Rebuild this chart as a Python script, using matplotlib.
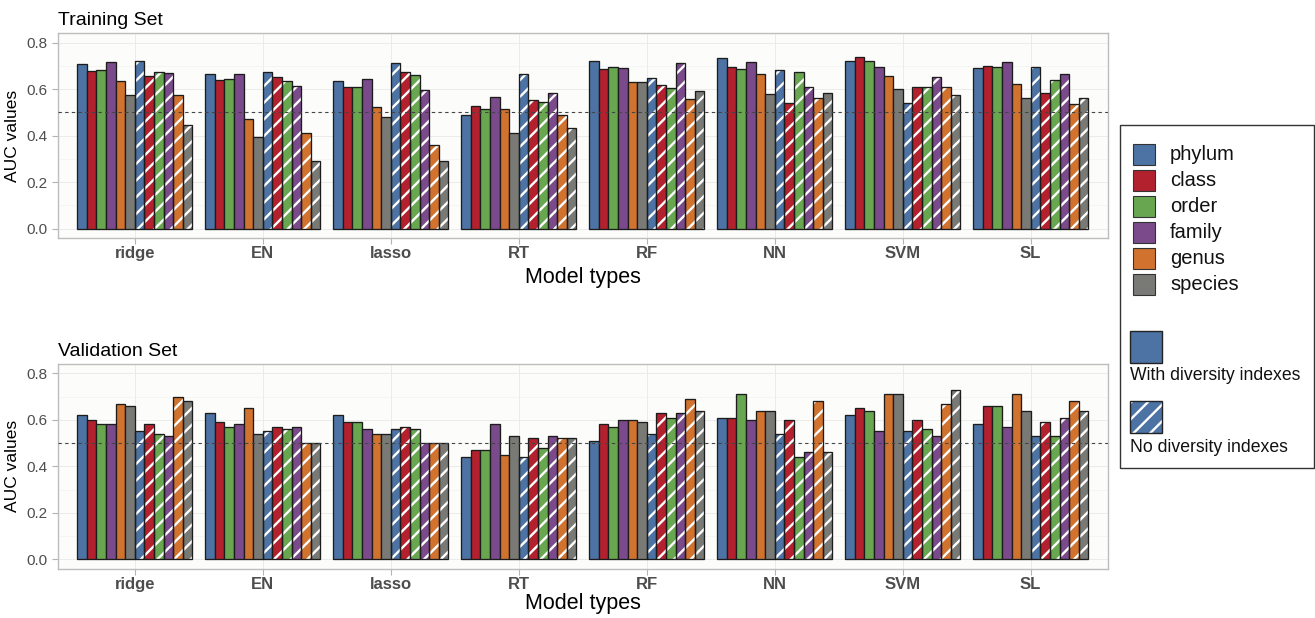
import numpy as np
import matplotlib
matplotlib.use("Agg")
import matplotlib.pyplot as plt
from matplotlib.patches import Rectangle

plt.rcParams['font.family'] = ['Liberation Sans', 'DejaVu Sans']
plt.rcParams['hatch.linewidth'] = 1.7

models = ["ridge", "EN", "lasso", "RT", "RF", "NN", "SVM", "SL"]
taxa = ["phylum", "class", "order", "family", "genus", "species"]
colors = ["#4C73A4", "#B3212F", "#68A650", "#7A4A8B", "#D1722F", "#797A76"]

# rows = models, columns = taxa
train_div = [
    [0.708, 0.678, 0.683, 0.716, 0.634, 0.575],
    [0.667, 0.638, 0.643, 0.665, 0.470, 0.393],
    [0.637, 0.611, 0.610, 0.644, 0.522, 0.482],
    [0.490, 0.526, 0.513, 0.565, 0.516, 0.410],
    [0.723, 0.688, 0.694, 0.692, 0.631, 0.632],
    [0.733, 0.693, 0.686, 0.716, 0.664, 0.577],
    [0.723, 0.738, 0.721, 0.697, 0.658, 0.601],
    [0.690, 0.701, 0.694, 0.717, 0.624, 0.561],
]
train_nodiv = [
    [0.720, 0.657, 0.675, 0.670, 0.575, 0.445],
    [0.674, 0.651, 0.634, 0.612, 0.413, 0.292],
    [0.711, 0.675, 0.660, 0.597, 0.361, 0.292],
    [0.667, 0.555, 0.544, 0.582, 0.488, 0.433],
    [0.647, 0.617, 0.605, 0.711, 0.556, 0.594],
    [0.681, 0.542, 0.674, 0.608, 0.561, 0.582],
    [0.541, 0.608, 0.607, 0.652, 0.608, 0.574],
    [0.697, 0.585, 0.638, 0.665, 0.535, 0.561],
]
val_div = [
    [0.62, 0.60, 0.58, 0.58, 0.67, 0.66],
    [0.63, 0.59, 0.57, 0.58, 0.65, 0.54],
    [0.62, 0.59, 0.59, 0.56, 0.54, 0.54],
    [0.44, 0.47, 0.47, 0.58, 0.45, 0.53],
    [0.51, 0.58, 0.57, 0.60, 0.60, 0.59],
    [0.61, 0.61, 0.71, 0.60, 0.64, 0.64],
    [0.62, 0.65, 0.64, 0.55, 0.71, 0.71],
    [0.58, 0.66, 0.66, 0.57, 0.71, 0.64],
]
val_nodiv = [
    [0.55, 0.58, 0.54, 0.53, 0.70, 0.68],
    [0.55, 0.57, 0.56, 0.57, 0.50, 0.50],
    [0.56, 0.57, 0.56, 0.50, 0.50, 0.50],
    [0.44, 0.52, 0.48, 0.53, 0.52, 0.52],
    [0.54, 0.63, 0.61, 0.63, 0.69, 0.64],
    [0.54, 0.60, 0.44, 0.46, 0.68, 0.46],
    [0.55, 0.60, 0.56, 0.53, 0.67, 0.73],
    [0.53, 0.59, 0.53, 0.61, 0.68, 0.64],
]

W, H = 1315, 618
fig = plt.figure(figsize=(W / 100, H / 100), dpi=100)

edge = "#1c1c1c"
n_bars = 2 * len(taxa)
bw = 0.9 / n_bars


def draw_panel(ax, div, nodiv, title, xpad):
    x = np.arange(len(models))
    ax.set_facecolor("#FCFCFA")
    for j, (tax, c) in enumerate(zip(taxa, colors)):
        h1 = [row[j] for row in div]
        h2 = [row[j] for row in nodiv]
        off1 = -0.45 + bw * (j + 0.5)
        off2 = -0.45 + bw * (j + len(taxa) + 0.5)
        ax.bar(x + off1, h1, bw, color=c, edgecolor=edge, linewidth=0.95, zorder=2)
        ax.bar(x + off2, h2, bw, color=c, edgecolor="white", hatch="//", linewidth=0, zorder=2)
        ax.bar(x + off2, h2, bw, fill=False, edgecolor=edge, linewidth=0.95, zorder=3)
    ax.axhline(0.5, color="#444444", linestyle=(0, (3, 3)), linewidth=0.8, zorder=4)
    ax.set_xlim(-0.6, len(models) - 0.4)
    ax.set_ylim(-0.04, 0.84)
    ax.set_yticks([0.0, 0.2, 0.4, 0.6, 0.8])
    ax.set_yticks([0.1, 0.3, 0.5, 0.7], minor=True)
    ax.set_xticks(x)
    ax.set_xticklabels(models, fontweight="bold", fontsize=12, color="#4D4D4D")
    ax.tick_params(axis="y", labelsize=11, colors="#B3B3B3", labelcolor="#4D4D4D", length=4, width=0.8)
    ax.tick_params(axis="y", which="minor", length=0)
    ax.tick_params(axis="x", colors="#B3B3B3", labelcolor="#4D4D4D", length=4, width=0.8, pad=2)
    ax.grid(True, which="major", color="#EBEBEB", linewidth=0.7, zorder=0)
    ax.grid(True, which="minor", axis="y", color="#F3F3F3", linewidth=0.5, zorder=0)
    ax.set_axisbelow(True)
    for s in ax.spines.values():
        s.set_color("#BDBDBD")
        s.set_linewidth(1.0)
    ax.set_ylabel("AUC values", fontsize=12.5, labelpad=5)
    ax.set_xlabel("Model types", fontsize=15.5, labelpad=xpad)
    ax.set_title(title, loc="left", fontsize=14, pad=6)


ax1 = fig.add_axes([58 / W, 1 - 238 / H, 1049.5 / W, 204.7 / H])
draw_panel(ax1, train_div, train_nodiv, "Training Set", 4)
ax2 = fig.add_axes([58 / W, 1 - 568.7 / H, 1049.5 / W, 204.7 / H])
draw_panel(ax2, val_div, val_nodiv, "Validation Set", 1)

# legend drawn in pixel coordinates of the figure
lx0, lx1, ly0, ly1 = 1119, 1314, 124, 468
lax = fig.add_axes([lx0 / W, 1 - ly1 / H, (lx1 - lx0) / W, (ly1 - ly0) / H])
lax.set_xlim(lx0, lx1)
lax.set_ylim(ly1, ly0)
lax.axis("off")
lax.add_patch(Rectangle((lx0 + 0.5, ly0 + 0.5), lx1 - lx0 - 1, ly1 - ly0 - 1,
                        fill=False, edgecolor="#333333", linewidth=1.0, clip_on=False))
for i, (tax, c) in enumerate(zip(taxa, colors)):
    top = 143.5 + 26 * i
    lax.add_patch(Rectangle((1133, top), 22, 21, facecolor=c, edgecolor="#333333", linewidth=0.8))
    lax.text(1170, top + 10.5, tax, fontsize=14.5, va="center", ha="left", color="#111111")

lax.add_patch(Rectangle((1130, 331), 32, 32, facecolor=colors[0], edgecolor="#222222", linewidth=1.0))
lax.text(1130, 375, "With diversity indexes", fontsize=12.7, va="center", ha="left", color="#111111")
lax.add_patch(Rectangle((1130, 401), 32, 32, facecolor=colors[0], edgecolor="white", hatch="//", linewidth=0))
lax.add_patch(Rectangle((1130, 401), 32, 32, fill=False, edgecolor="#222222", linewidth=1.0))
lax.text(1130, 447, "No diversity indexes", fontsize=12.7, va="center", ha="left", color="#111111")

fig.savefig("out.png", dpi=100)
